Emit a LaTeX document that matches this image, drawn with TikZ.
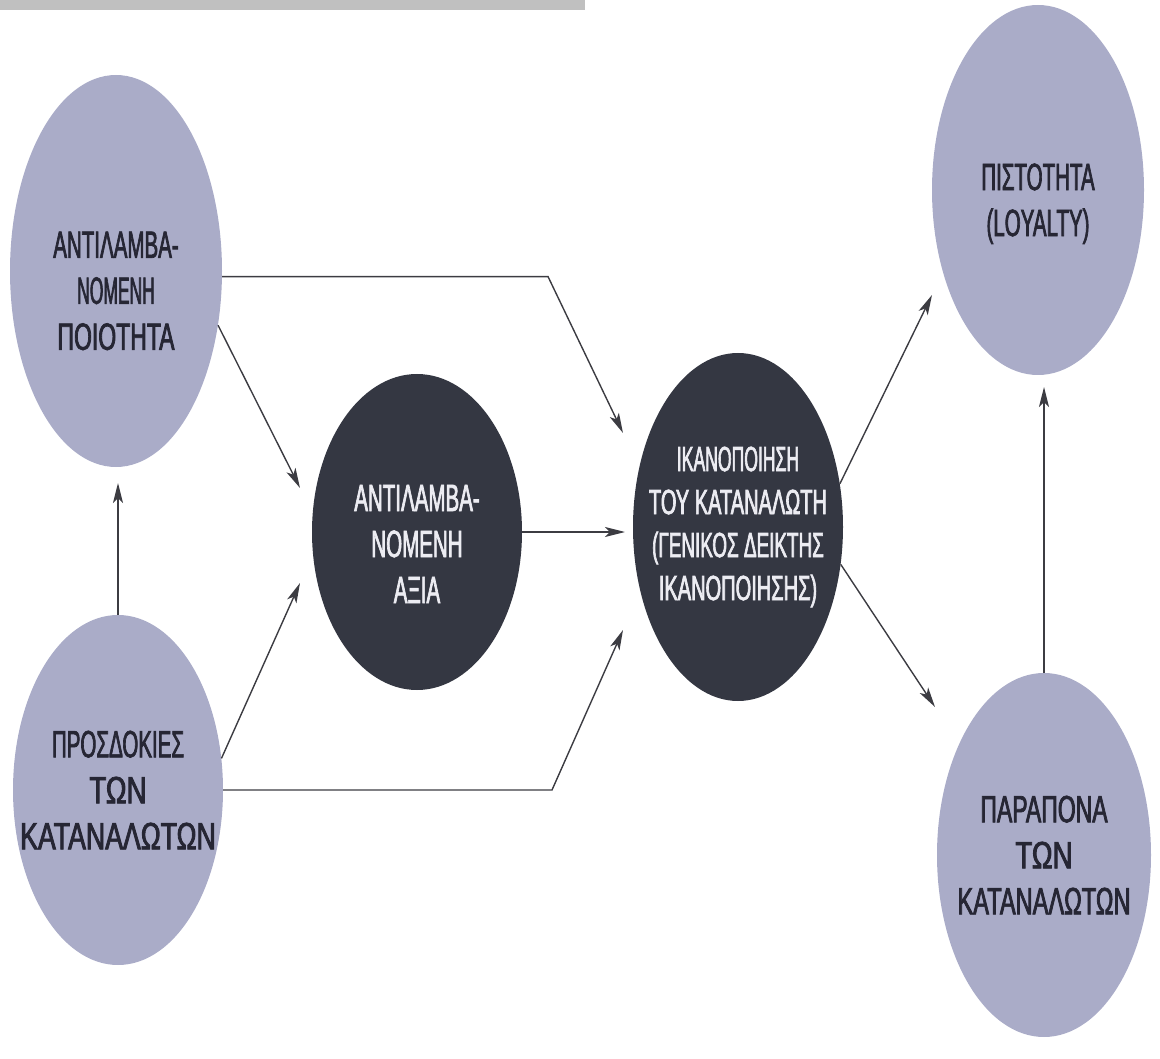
\documentclass[tikz,border=0pt]{standalone}
\usepackage{fontspec}
\usepackage{graphicx}
\newfontfamily\condfont[FakeStretch=0.54,FakeBold=1.8]{Liberation Sans}
\usetikzlibrary{shapes.geometric,arrows.meta}
\definecolor{lightfill}{RGB}{170,172,200}
\definecolor{darkfill}{RGB}{52,55,66}
\definecolor{lighttext}{RGB}{38,38,52}
\definecolor{darktext}{RGB}{236,236,242}
\definecolor{linecol}{RGB}{60,60,66}
\definecolor{barcol}{RGB}{192,192,192}
\newcommand{\hsc}[2]{\scalebox{#1}[1]{#2}}
\begin{document}
\begin{tikzpicture}[x=1pt,y=-1pt,
  bubble/.style={ellipse, inner ysep=0pt, inner xsep=-40pt, align=center},
  lightbub/.style={bubble, fill=lightfill, text=lighttext, font=\condfont\fontsize{38}{46}\selectfont},
  darkbub/.style={bubble, fill=darkfill, text=darktext, font=\condfont\fontsize{38}{46}\selectfont},
  arr/.style={draw=linecol, line width=1.4pt, -{Stealth[length=20pt,width=10pt,inset=5pt]}}]
\useasboundingbox (0,0) rectangle (1160,1059);
\fill[barcol] (0,0) rectangle (585,10);

\node[lightbub, minimum width=212pt, minimum height=392pt] (Q) at (116,271)
  {\rule{0pt}{66pt}ΑΝΤΙΛΑΜΒΑ-\\\hsc{0.85}{ΝΟΜΕΝΗ}\\\hsc{1.12}{ΠΟΙΟΤΗΤΑ}};
\node[lightbub, minimum width=210pt, minimum height=350pt] (E) at (118,790)
  {ΠΡΟΣΔΟΚΙΕΣ\\\hsc{1.35}{ΤΩΝ}\\\hsc{1.3}{ΚΑΤΑΝΑΛΩΤΩΝ}};
\node[darkbub, minimum width=210pt, minimum height=316pt] (V) at (417,532)
  {\rule{0pt}{50pt}ΑΝΤΙΛΑΜΒΑ-\\ΝΟΜΕΝΗ\\ΑΞΙΑ};
\node[darkbub, minimum width=210pt, minimum height=348pt,
      font=\condfont\fontsize{35}{43}\selectfont] (S) at (738,527)
  {\hsc{0.93}{ΙΚΑΝΟΠΟΙΗΣΗ}\\\hsc{1.06}{ΤΟΥ ΚΑΤΑΝΑΛΩΤΗ}\\(ΓΕΝΙΚΟΣ ΔΕΙΚΤΗΣ\\\hsc{1.06}{ΙΚΑΝΟΠΟΙΗΣΗΣ)}};
\node[lightbub, minimum width=212pt, minimum height=370pt] (L) at (1038,190)
  {\rule{0pt}{54pt}ΠΙΣΤΟΤΗΤΑ\\(LOYALTY)};
\node[lightbub, minimum width=214pt, minimum height=364pt] (C) at (1044,855)
  {\hsc{1.12}{ΠΑΡΑΠΟΝΑ}\\\hsc{1.35}{ΤΩΝ}\\\hsc{1.15}{ΚΑΤΑΝΑΛΩΤΩΝ}};

\coordinate (b1) at (548,277);
\coordinate (t1) at (623,433);
\coordinate (t2) at (300,488);
\coordinate (t3) at (300,583);
\coordinate (b4) at (552,790);
\coordinate (t4) at (623,630);
\coordinate (t5) at (625,532);
\coordinate (t6) at (118,483);
\coordinate (t7) at (932,295);
\coordinate (t8) at (935,707);
\coordinate (t9) at (1044,387);

\draw[arr] (Q.-3) -- (Q.-3 -| b1) -- (t1);
\draw[arr] (Q.-28) -- (t2);
\draw[arr] (E.17) -- (t3);
\draw[arr] (E.east) -- (E.east -| b4) -- (t4);
\draw[arr] (V.east) -- (V.east -| t5);
\draw[arr] (E.north) -- (E.north |- t6);
\draw[arr] (S.23) -- (t7);
\draw[arr] (S.-20) -- (t8);
\draw[arr] (C.north) -- (C.north |- t9);
\end{tikzpicture}
\end{document}
